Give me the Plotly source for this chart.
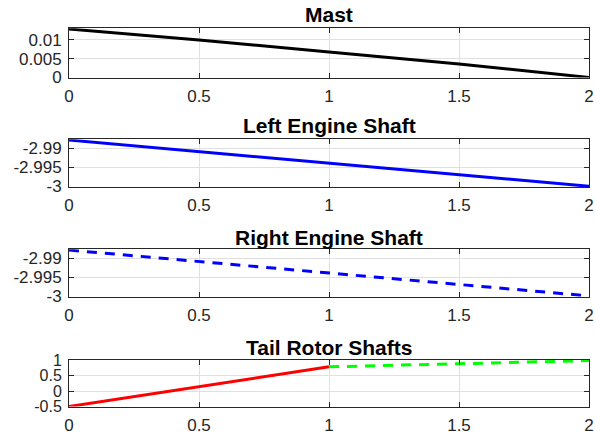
import plotly.graph_objects as go

# ---- data ----
t = [0, 0.5, 1, 1.5, 2]
mast = [0.0129, 0.0100, 0.0068, 0.0036, 0.0]
left_engine = [-2.9878, -2.9909, -2.9939, -2.9970, -3.0]
right_engine = [-2.9878, -2.9909, -2.9939, -2.9970, -3.0]
t_tail_a = [0, 0.5, 1]
tail_a = [-0.5, 0.14, 0.78]
t_tail_b = [1, 1.5, 2]
tail_b = [0.78, 0.89, 0.98]

titles = ["Mast", "Left Engine Shaft", "Right Engine Shaft", "Tail Rotor Shafts"]
x_ticks = [0, 0.5, 1, 1.5, 2]
x_tick_text = ["0", "0.5", "1", "1.5", "2"]
y_ticks = [[0, 0.005, 0.01], [-3, -2.995, -2.99], [-3, -2.995, -2.99], [-0.5, 0, 0.5, 1]]
y_tick_text = [["0", "0.005", "0.01"], ["-3", "-2.995", "-2.99"], ["-3", "-2.995", "-2.99"],
               ["-0.5", "0", "0.5", "1"]]
y_ranges = [[0, 0.01309], [-3.0002, -2.9876], [-3.0002, -2.9876], [-0.5, 1.0]]

W, H = 595, 442
FONT = "Helvetica, Arial, Liberation Sans, sans-serif"
AX = "#262626"
GRID = "#e0e0e0"

# pixel boxes (top, bottom) for subplots
boxes = [(28.3, 77.5), (139.3, 187.0), (249.3, 296.7), (360.0, 406.5)]
title_y = [15.0, 125.5, 237.0, 347.5]
x0, x1 = 69, 589

fig = go.Figure()
fig.add_trace(go.Scatter(x=t, y=mast, mode="lines", line=dict(color="#000000", width=3),
                         xaxis="x", yaxis="y"))
fig.add_trace(go.Scatter(x=t, y=left_engine, mode="lines", line=dict(color="#0000ff", width=3),
                         xaxis="x2", yaxis="y2"))
fig.add_trace(go.Scatter(x=t, y=right_engine, mode="lines",
                         line=dict(color="#0000ff", width=3, dash="10px,8px"),
                         xaxis="x3", yaxis="y3"))
fig.add_trace(go.Scatter(x=t_tail_a, y=tail_a, mode="lines", line=dict(color="#ff0000", width=3),
                         xaxis="x4", yaxis="y4"))
fig.add_trace(go.Scatter(x=t_tail_b, y=tail_b, mode="lines",
                         line=dict(color="#00ff00", width=3, dash="10px,8px"),
                         xaxis="x4", yaxis="y4"))

layout = dict(
    width=W, height=H, showlegend=False,
    margin=dict(l=0, r=0, t=0, b=0, pad=0, autoexpand=False),
    paper_bgcolor="white", plot_bgcolor="white",
    font=dict(family=FONT, size=17, color=AX),
    annotations=[],
)
for i in range(4):
    sfx = "" if i == 0 else str(i + 1)
    top, bot = boxes[i]
    ysize = 16 if i == 3 else 17
    layout["xaxis" + sfx] = dict(
        domain=[x0 / W, x1 / W], anchor="y" + sfx, range=[0, 2],
        tickvals=x_ticks, ticktext=x_tick_text,
        showline=True, linecolor=AX, linewidth=1, mirror="ticks",
        ticks="inside", ticklen=5, tickcolor=AX,
        showgrid=True, gridcolor=GRID, gridwidth=1, zeroline=False,
        automargin=False, ticklabelstandoff=3,
        tickfont=dict(family=FONT, size=17, color=AX),
    )
    layout["yaxis" + sfx] = dict(
        domain=[1 - bot / H, 1 - top / H], anchor="x" + sfx, range=y_ranges[i],
        tickvals=y_ticks[i], ticktext=y_tick_text[i],
        showline=True, linecolor=AX, linewidth=1, mirror="ticks",
        ticks="inside", ticklen=5, tickcolor=AX,
        showgrid=True, gridcolor=GRID, gridwidth=1, zeroline=False,
        automargin=False, ticklabelstandoff=3,
        tickfont=dict(family=FONT, size=ysize, color=AX),
    )
    layout["annotations"].append(dict(
        text="<b>" + titles[i] + "</b>", xref="paper", yref="paper",
        x=(x0 + x1) / 2 / W, y=1 - title_y[i] / H, xanchor="center", yanchor="middle",
        showarrow=False, font=dict(family=FONT, size=21, color="#000000"),
    ))

fig.update_layout(**layout)
fig.write_html("out.html")
